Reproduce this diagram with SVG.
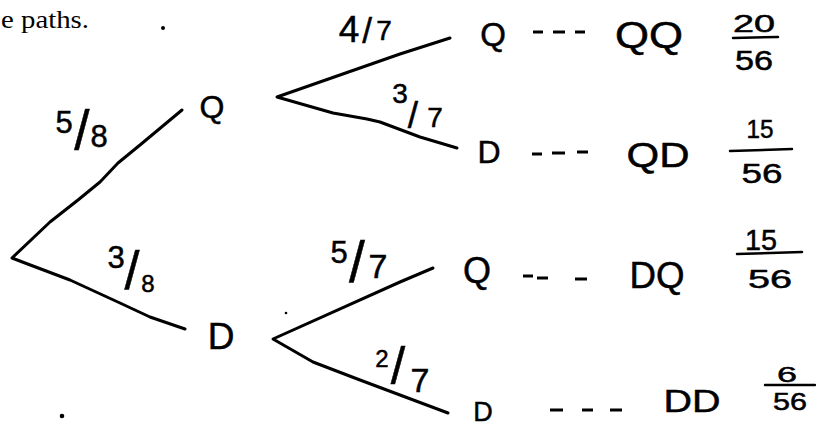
<svg xmlns="http://www.w3.org/2000/svg" width="816" height="426" viewBox="0 0 816 426">
<style>
.hw{font-family:"Liberation Sans","DejaVu Sans",sans-serif;fill:#000;stroke:#000;stroke-width:0.5;text-anchor:middle}
.ln{fill:none;stroke:#000;stroke-width:3;stroke-linecap:round;stroke-linejoin:round}
.dash{fill:none;stroke:#000;stroke-width:3;stroke-linecap:butt}
.bar{stroke:#000;stroke-width:2.5;stroke-linecap:round}
.serif{font-family:"Liberation Serif","DejaVu Serif",serif;fill:#000}
</style>
<rect width="816" height="426" fill="#fff"/>
<text class="serif" x="1" y="28" font-size="26" textLength="88" lengthAdjust="spacingAndGlyphs">e paths.</text>
<g id="specks" fill="#000">
<circle cx="163" cy="28" r="2"/>
<circle cx="62" cy="416" r="2.3"/>
<circle cx="286" cy="313" r="1.3"/>
</g>
<g id="connectors">
<path class="ln" d="M182,110 L140,145 L118,163 L100,182 L78,200 L50,222 L12,258 L25,263 L70,280 L120,303 L150,317 L185,329"/>
<path class="ln" d="M450,38 L400,54 L277,97 L333,113 L367,119 L380,122 L420,137 L457,148"/>
<path class="ln" d="M433,268 L400,282 L273,339 L313,362 L360,380 L448,413"/>
<path class="dash" d="M533,32 H543 M553,32 H565 M575,32 H585"/>
<path class="dash" d="M532,154 H542 M552,153 H565 M577,152 H588"/>
<path class="dash" d="M523,276 H533 M537,278 H548 M575,279 H587"/>
<path class="dash" d="M550,410 H563 M582,410 H593 M610,410 H622"/>
</g>
<g id="edge-labels">
<text class="hw"><tspan x="64" y="133" font-size="31">5</tspan><tspan x="82" y="149" font-size="55">/</tspan><tspan x="99" y="147" font-size="31">8</tspan></text>
<text class="hw"><tspan x="116" y="268" font-size="31">3</tspan><tspan x="132" y="289" font-size="54">/</tspan><tspan x="148" y="292" font-size="24">8</tspan></text>
<text class="hw"><tspan x="349" y="42" font-size="37">4</tspan><tspan x="367" y="43" font-size="35">/</tspan><tspan x="384" y="40" font-size="28">7</tspan></text>
<text class="hw"><tspan x="400" y="103" font-size="28">3</tspan><tspan x="413" y="128" font-size="37">/</tspan><tspan x="435" y="127" font-size="28">7</tspan></text>
<text class="hw"><tspan x="339" y="263" font-size="31">5</tspan><tspan x="357" y="282" font-size="57">/</tspan><tspan x="378" y="278" font-size="34">7</tspan></text>
<text class="hw"><tspan x="382" y="367" font-size="24">2</tspan><tspan x="398" y="384" font-size="52">/</tspan><tspan x="420" y="392" font-size="34">7</tspan></text>
</g>
<g id="node-Q">
<text class="hw" x="212" y="118" font-size="32">Q</text>
</g>
<g id="node-D">
<text class="hw" x="221" y="349" font-size="37">D</text>
</g>
<g id="leaf-QQ">
<text class="hw" x="493" y="46" font-size="33">Q</text>
<text class="hw" x="649" y="48" font-size="36" textLength="68" lengthAdjust="spacingAndGlyphs">QQ</text>
<text class="hw" x="754" y="32" font-size="24" textLength="42" lengthAdjust="spacingAndGlyphs">20</text>
<line class="bar" x1="733" y1="38" x2="778" y2="37"/>
<text class="hw" x="754" y="70" font-size="27" textLength="38" lengthAdjust="spacingAndGlyphs">56</text>
</g>
<g id="leaf-QD">
<text class="hw" x="489" y="163" font-size="32">D</text>
<text class="hw" x="658" y="167" font-size="35" textLength="63" lengthAdjust="spacingAndGlyphs">QD</text>
<text class="hw" x="760" y="138" font-size="26" textLength="27" lengthAdjust="spacingAndGlyphs">15</text>
<line class="bar" x1="730" y1="151" x2="792" y2="149"/>
<text class="hw" x="762" y="183" font-size="28" textLength="41" lengthAdjust="spacingAndGlyphs">56</text>
</g>
<g id="leaf-DQ">
<text class="hw" x="477" y="283" font-size="36">Q</text>
<text class="hw" x="657" y="288" font-size="36" textLength="55" lengthAdjust="spacingAndGlyphs">DQ</text>
<text class="hw" x="761" y="250" font-size="30" textLength="32" lengthAdjust="spacingAndGlyphs">15</text>
<line class="bar" x1="737" y1="254" x2="802" y2="252"/>
<text class="hw" x="770" y="288" font-size="25" textLength="44" lengthAdjust="spacingAndGlyphs">56</text>
</g>
<g id="leaf-DD">
<text class="hw" x="483" y="421" font-size="27">D</text>
<text class="hw" x="692" y="412" font-size="31" textLength="57" lengthAdjust="spacingAndGlyphs">DD</text>
<text class="hw" x="787" y="382" font-size="22" textLength="20" lengthAdjust="spacingAndGlyphs">6</text>
<line class="bar" x1="765" y1="385" x2="815" y2="385"/>
<text class="hw" x="790" y="410" font-size="24" textLength="34" lengthAdjust="spacingAndGlyphs">56</text>
</g>
</svg>
